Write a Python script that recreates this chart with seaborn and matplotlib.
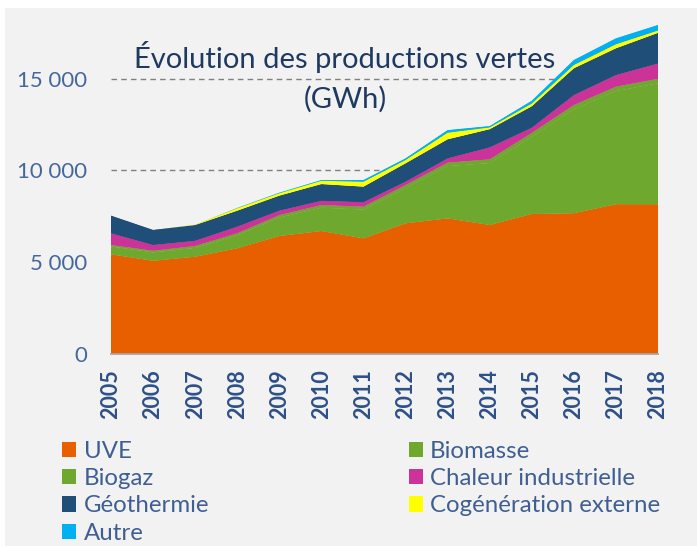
import numpy as np
import pandas as pd
import matplotlib
matplotlib.use("Agg")
import matplotlib.pyplot as plt
from matplotlib.patches import Patch, Rectangle
import seaborn as sns
import seaborn.objects as so

# Données (GWh)
annees = list(range(2005, 2019))
uve = [5430, 5080, 5300, 5760, 6430, 6700, 6300, 7120, 7390, 7030, 7630, 7670, 8160, 8160]
biomasse = [430, 455, 480, 700, 1005, 1270, 1570, 1915, 2850, 3375, 4205, 5670, 6170, 6590]
biogaz = [80, 95, 110, 120, 135, 150, 160, 175, 190, 205, 215, 230, 240, 250]
chaleur = [640, 310, 280, 360, 240, 230, 240, 180, 230, 650, 280, 540, 630, 830]
geothermie = [960, 820, 860, 870, 820, 910, 850, 1000, 1040, 990, 1170, 1460, 1460, 1670]
cogeneration = [0, 0, 20, 130, 130, 180, 270, 180, 360, 100, 150, 180, 220, 130]
autre = [0, 0, 0, 20, 30, 40, 90, 90, 140, 70, 150, 270, 320, 300]

sources = ["UVE", "Biomasse", "Biogaz", "Chaleur industrielle",
           "Géothermie", "Cogénération externe", "Autre"]
series = [uve, biomasse, biogaz, chaleur, geothermie, cogeneration, autre]
couleurs = {
    "UVE": "#E85F00",
    "Biomasse": "#6FA82F",
    "Biogaz": "#6FA82F",
    "Chaleur industrielle": "#CC3399",
    "Géothermie": "#1F4E79",
    "Cogénération externe": "#FFFF00",
    "Autre": "#00B0F0",
}
yticks = [0, 5000, 10000, 15000]
ylabels = ["0", "5 000", "10 000", "15 000"]

# tableau long pour seaborn
df = pd.concat(
    [pd.DataFrame({"annee": annees, "gwh": v, "source": s}) for s, v in zip(sources, series)],
    ignore_index=True,
)

sns.set_style("white")
plt.rcParams["font.family"] = ["Lato", "DejaVu Sans"]

fig = plt.figure(figsize=(6.97, 5.46), dpi=100, facecolor="white")
fig.patches.append(Rectangle((5 / 697, 0), 1, 1 - 8 / 546, transform=fig.transFigure,
                             facecolor="#F2F2F2", edgecolor="none", zorder=-10))
ax = fig.add_axes([111 / 697, 1 - 354 / 546, 547 / 697, 330.3 / 546])

(
    so.Plot(df, x="annee", y="gwh", color="source")
    .add(so.Area(alpha=1, edgewidth=0.6, edgealpha=1), so.Stack(), legend=False)
    .scale(color=couleurs)
    .on(ax)
    .plot()
)

ax.set_facecolor("none")
ax.set_xlim(2005, 2018)
ax.set_ylim(0, 18000)
ax.set_xlabel("")
ax.set_ylabel("")
for side in ["left", "right", "top"]:
    ax.spines[side].set_visible(False)
ax.spines["bottom"].set_color("#A6A6A6")
ax.spines["bottom"].set_linewidth(1.3)
ax.spines["bottom"].set_zorder(5)

ax.set_xticks(annees)
ax.set_xticklabels([str(a) for a in annees], rotation=90, fontsize=15.5,
                   fontweight="bold", color="#2D5088")
ax.tick_params(axis="x", direction="out", length=6, width=1.2, color="#A6A6A6", pad=5)
ax.set_yticks(yticks)
ax.set_yticklabels(ylabels, fontsize=16, color="#44689B")
ax.tick_params(axis="y", length=0, pad=17)

ax.set_axisbelow(True)
ax.yaxis.grid(True, color="#808080", linestyle=(0, (4, 3)), linewidth=1)
ax.xaxis.grid(False)

fig.text(345 / 697, 1 - 77 / 546, "Évolution des productions vertes\n(GWh)",
         ha="center", va="center", fontsize=21, color="#1F3A60", linespacing=1.6)

# légende sur deux colonnes, ordre ligne par ligne
ordre = ["UVE", "Biogaz", "Géothermie", "Autre",
         "Biomasse", "Chaleur industrielle", "Cogénération externe"]
handles = [Patch(facecolor=couleurs[s], edgecolor="none") for s in ordre]
fig.legend(handles, ordre, ncol=2, loc="upper left",
           bbox_to_anchor=(62 / 697, 1 - 441 / 546), frameon=False,
           fontsize=17.3, labelcolor="#3F5F93", handlelength=0.6, handleheight=0.6,
           handletextpad=0.3, labelspacing=0.26, columnspacing=8.3,
           borderaxespad=0, borderpad=0)

fig.savefig("out.png", dpi=100, facecolor=fig.get_facecolor())
